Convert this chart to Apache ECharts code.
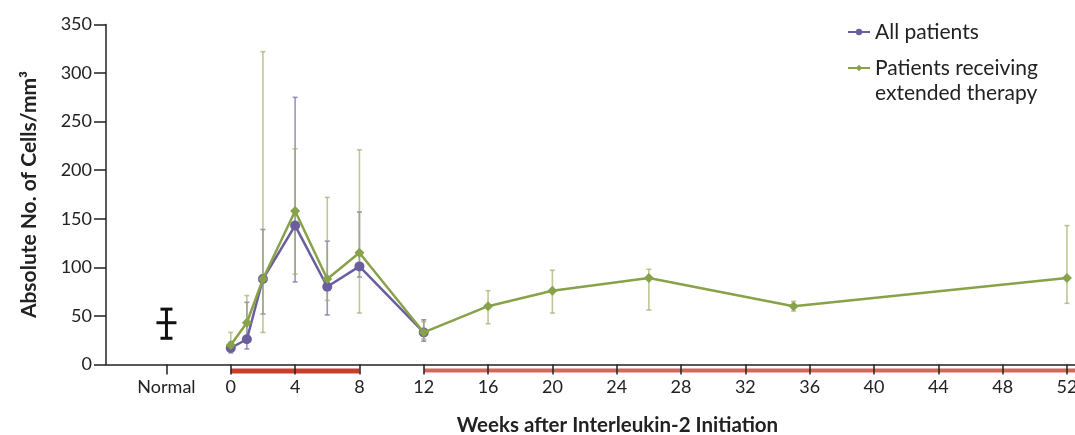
<!DOCTYPE html>
<html><head><meta charset="utf-8">
<script src="https://cdn.jsdelivr.net/npm/echarts@6/dist/echarts.min.js"></script>
<style>html,body{margin:0;padding:0;background:#fff}#c{width:1075px;height:435px}</style>
</head><body><div id="c"></div>
<script>
// ---- data ----
var xTickValues = [-4, 0, 4, 8, 12, 16, 20, 24, 28, 32, 36, 40, 44, 48, 52];
var normalPos = -4;
var normalLabel = 'Normal';
var normalMean = [43];
var normalLow = [27];
var normalHigh = [57];

var allWeeks = [0, 1, 2, 4, 6, 8, 12];
var allMean  = [17, 26, 88, 143, 80, 101, 33];
var allLow   = [12, 16, 52, 85, 51, 90, 24];
var allHigh  = [23, 64, 139, 275, 127, 157, 46];

var extWeeks = [0, 1, 2, 4, 6, 8, 12, 16, 20, 26, 35, 52];
var extMean  = [20, 43, 88, 158, 88, 115, 33, 60, 76, 89, 60, 89];
var extLow   = [14, 24, 33, 93, 66, 53, 26, 42, 53, 56, 55, 63];
var extHigh  = [33, 71, 322, 222, 172, 221, 44, 76, 97, 98, 65, 143];

var treatStart = [0, 12];
var treatEnd   = [8, 52.5];

var seriesNames = ['All patients', 'Patients receiving\nextended therapy'];
var yTitle = 'Absolute No. of Cells/mm\u00B3';
var xTitle = 'Weeks after Interleukin-2 Initiation';

// ---- build ----
var FONT = 'Lato';
function zip(a, b) { return a.map(function (v, i) { return [v, b[i]]; }); }
function zip3(a, b, c) { return a.map(function (v, i) { return [v, b[i], c[i]]; }); }

function errRender(color, cap, lw, opacity) {
  return function (params, api) {
    var x = api.value(0), lo = api.value(1), hi = api.value(2);
    var p1 = api.coord([x, lo]), p2 = api.coord([x, hi]);
    var st = { stroke: color, lineWidth: lw, opacity: opacity };
    return { type: 'group', children: [
      { type: 'line', shape: { x1: p1[0], y1: p1[1], x2: p2[0], y2: p2[1] }, style: st },
      { type: 'line', shape: { x1: p1[0] - cap, y1: p1[1], x2: p1[0] + cap, y2: p1[1] }, style: st },
      { type: 'line', shape: { x1: p2[0] - cap, y1: p2[1], x2: p2[0] + cap, y2: p2[1] }, style: st }
    ]};
  };
}

var chart = echarts.init(document.getElementById('c'), null, { renderer: 'canvas' });
var purple = '#6b5e9e', green = '#88a24a';

chart.setOption({
  animation: false,
  textStyle: { fontFamily: FONT },
  grid: { left: 106, right: 0, top: 24.5, bottom: 70.5, containLabel: false, outerBoundsMode: 'none' },
  legend: {
    orient: 'vertical', left: 842, top: 14.5, itemGap: -14,
    itemWidth: 22, itemHeight: 8,
    textStyle: { fontFamily: FONT, fontSize: 21, color: '#222', lineHeight: 25 },
    formatter: function (name) { return name.indexOf('\n') >= 0 ? '\u00a0\n' + name : name; },
    data: [seriesNames[0], seriesNames[1]]
  },
  xAxis: {
    type: 'value', min: -7.76, max: 52.5, z: 5,
    name: xTitle, nameLocation: 'middle', nameGap: 50,
    nameTextStyle: { fontFamily: FONT, fontSize: 20.5, fontWeight: 'bold', color: '#222', padding: [0, 0, 0, 54] },
    axisLine: { show: true, onZero: false, lineStyle: { color: '#222', width: 1.5 } },
    axisTick: { show: true, length: 10, customValues: xTickValues, lineStyle: { color: '#222', width: 1.5 } },
    axisLabel: { customValues: xTickValues, fontSize: 18, color: '#222', margin: 14,
      formatter: function (v) { return v === normalPos ? normalLabel : String(v); } },
    splitLine: { show: false }
  },
  yAxis: {
    type: 'value', min: 0, max: 350, interval: 50,
    name: yTitle, nameLocation: 'middle', nameGap: 66, nameRotate: 90,
    nameTextStyle: { fontFamily: FONT, fontSize: 21, fontWeight: 'bold', color: '#222' },
    axisLine: { show: true, onZero: false, lineStyle: { color: '#222', width: 1.5 } },
    axisTick: { show: true, length: 12, lineStyle: { color: '#222', width: 1.5 } },
    axisLabel: { fontSize: 18, color: '#222', margin: 14 },
    splitLine: { show: false }
  },
  series: [
    { type: 'custom', name: 'treat', silent: true, clip: false, z: 1,
      data: zip(treatStart, treatEnd),
      renderItem: function (params, api) {
        var a = api.coord([api.value(0), 0]), b = api.coord([api.value(1), 0]);
        var first = params.dataIndex === 0;
        var h = first ? 5 : 4;
        return { type: 'rect', shape: { x: a[0], y: a[1] + 4, width: b[0] - a[0], height: h },
          style: { fill: first ? '#c53f2c' : '#d6665b' } };
      } },
    { type: 'custom', name: 'normalErr', silent: true, clip: false, z: 3,
      data: [[normalPos, normalLow[0], normalHigh[0], normalMean[0]]],
      renderItem: function (params, api) {
        var x = api.value(0);
        var p1 = api.coord([x, api.value(1)]), p2 = api.coord([x, api.value(2)]), pm = api.coord([x, api.value(3)]);
        var st = { stroke: '#111', lineWidth: 3 };
        return { type: 'group', children: [
          { type: 'line', shape: { x1: p1[0], y1: p1[1], x2: p2[0], y2: p2[1] }, style: st },
          { type: 'line', shape: { x1: p1[0] - 6, y1: p1[1], x2: p1[0] + 6, y2: p1[1] }, style: st },
          { type: 'line', shape: { x1: p2[0] - 6, y1: p2[1], x2: p2[0] + 6, y2: p2[1] }, style: st },
          { type: 'line', shape: { x1: pm[0] - 10, y1: pm[1], x2: pm[0] + 10, y2: pm[1] }, style: st }
        ]};
      } },
    { type: 'custom', name: 'allErr', silent: true, z: 2,
      data: zip3(allWeeks, allLow, allHigh), renderItem: errRender('#7b70a8', 2.5, 1.6, 0.75) },
    { type: 'custom', name: 'extErr', silent: true, z: 2,
      data: zip3(extWeeks, extLow, extHigh), renderItem: errRender('#9fb06a', 2.5, 1.6, 0.7) },
    { type: 'line', name: seriesNames[0], data: zip(allWeeks, allMean), z: 4,
      symbol: 'circle', symbolSize: 10, itemStyle: { color: purple },
      lineStyle: { color: purple, width: 2.5 } },
    { type: 'line', name: seriesNames[1], data: zip(extWeeks, extMean), z: 5,
      symbol: 'diamond', symbolSize: 10, itemStyle: { color: green },
      lineStyle: { color: green, width: 2.5 } }
  ]
});
</script></body></html>
